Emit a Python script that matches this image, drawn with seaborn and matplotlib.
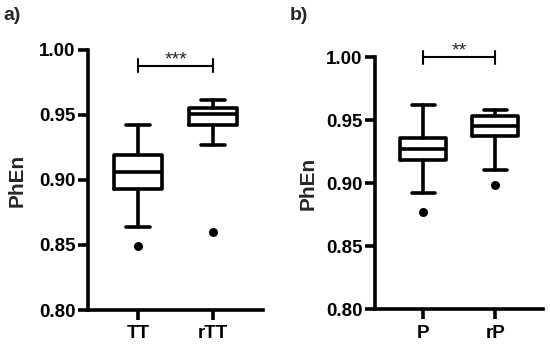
import matplotlib
matplotlib.use("Agg")
import matplotlib.pyplot as plt
import seaborn as sns
import pandas as pd

sns.set_style("ticks")
plt.rcParams['font.family'] = ['Liberation Sans', 'DejaVu Sans']
plt.rcParams['font.weight'] = 'bold'

# panel a) values
groups_a = ["TT", "rTT"]
q1_a = [0.893, 0.942]
med_a = [0.906, 0.951]
q3_a = [0.919, 0.955]
lo_a = [0.864, 0.927]
hi_a = [0.942, 0.9615]
out_a = [0.849, 0.860]

# panel b)
groups_b = ["P", "rP"]
q1_b = [0.9185, 0.9375]
med_b = [0.927, 0.9455]
q3_b = [0.936, 0.953]
lo_b = [0.892, 0.9106]
hi_b = [0.962, 0.958]
out_b = [0.877, 0.899]

yticks = [0.80, 0.85, 0.90, 0.95, 1.00]

fig = plt.figure(figsize=(5.5, 3.49), dpi=100)
ax_a = fig.add_axes([0.16, 0.1117, 0.318, 0.7453])
ax_b = fig.add_axes([0.682, 0.1137, 0.305, 0.7223])

lw = 2.6


def draw_panel(ax, groups, q1, med, q3, lo, hi, out, sig, sig_y, pad):
    stats = []
    for i in range(len(groups)):
        stats.append(dict(q1=q1[i], med=med[i], q3=q3[i], whislo=lo[i],
                          whishi=hi[i], fliers=[], label=groups[i]))
    ax.bxp(stats, positions=[0, 1], widths=0.64, showfliers=False,
           boxprops=dict(color='black', linewidth=lw),
           medianprops=dict(color='black', linewidth=lw),
           whiskerprops=dict(color='black', linewidth=lw),
           capprops=dict(color='black', linewidth=lw),
           capwidths=0.32)
    df = pd.DataFrame({"group": groups, "value": out})
    sns.stripplot(data=df, x="group", y="value", order=groups, jitter=False,
                  color='black', size=6.5, ax=ax)
    ax.set_xlim(-0.67, 1.66)
    ax.set_ylim(0.80, 1.00)
    ax.set_yticks(yticks)
    ax.set_yticklabels([f"{t:.2f}" for t in yticks])
    ax.set_xticks([0, 1])
    ax.set_xticklabels(groups)
    ax.set_xlabel("")
    ax.set_ylabel("PhEn", fontsize=15, fontweight='bold', labelpad=pad)
    ax.tick_params(axis='both', labelsize=13.5, width=lw, length=7, pad=2,
                   colors='black')
    ax.tick_params(axis='x', pad=4)
    for lab in ax.get_xticklabels() + ax.get_yticklabels():
        lab.set_fontweight('bold')
    sns.despine(ax=ax)
    for s in ['left', 'bottom']:
        ax.spines[s].set_linewidth(lw)
        ax.spines[s].set_color('black')
    # significance bracket
    h = 0.005
    ax.plot([0, 1], [sig_y, sig_y], color='black', lw=1.5, clip_on=False)
    ax.plot([0, 0], [sig_y - h, sig_y + h], color='black', lw=1.5, clip_on=False)
    ax.plot([1, 1], [sig_y - h, sig_y + h], color='black', lw=1.5, clip_on=False)
    ax.text(0.5, sig_y - 0.002, sig, ha='center', va='bottom', fontsize=14,
            fontweight='normal', clip_on=False)
    ax.set_facecolor('white')


draw_panel(ax_a, groups_a, q1_a, med_a, q3_a, lo_a, hi_a, out_a, "***", 0.988, 9)
draw_panel(ax_b, groups_b, q1_b, med_b, q3_b, lo_b, hi_b, out_b, "**", 1.000, 6)

fig.text(0.006, 0.98, "a)", fontsize=14, fontweight='bold', va='top', ha='left')
fig.text(0.527, 0.98, "b)", fontsize=14, fontweight='bold', va='top', ha='left')

fig.savefig("out.png", dpi=100, facecolor='white')
